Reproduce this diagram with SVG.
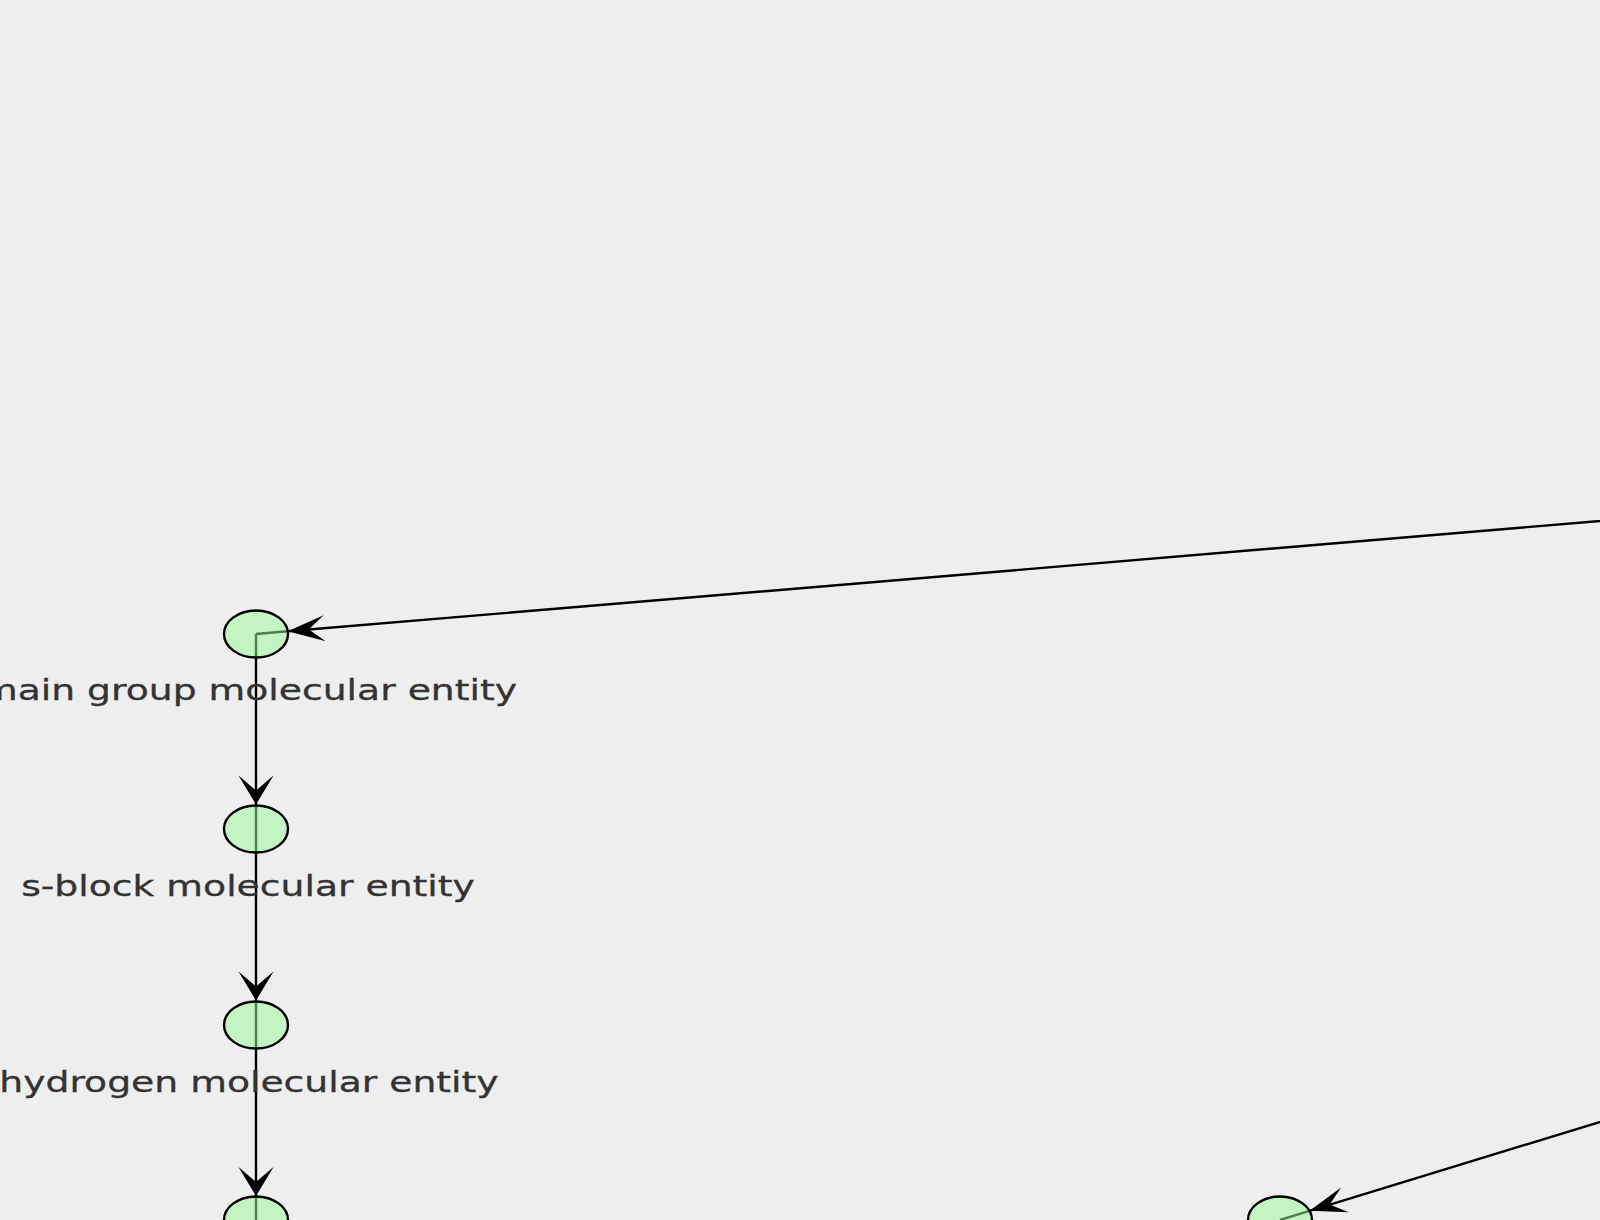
<svg xmlns="http://www.w3.org/2000/svg" width="1600" height="1220" viewBox="0 0 1600 1220">
  <style>
    .edge { fill: none; stroke: #000000; stroke-width: 2.4; }
    .node ellipse { fill: #98fb98; fill-opacity: 0.5; stroke: #000000; stroke-width: 2.4; }
    .label { font-family: "DejaVu Sans", "Liberation Sans", sans-serif; font-size: 29px; fill: #333333; stroke: #333333; stroke-width: 0.3; text-anchor: middle; }
  </style>
  <defs>
    <marker id="veeV" markerUnits="userSpaceOnUse" markerWidth="40" markerHeight="40" refX="0" refY="0" viewBox="-30 -20 32 40" orient="auto" overflow="visible">
      <path d="M0,0 L-29,-17.5 L-14,0 L-29,17.5 Z" fill="#000000"/>
    </marker>
    <marker id="veeD" markerUnits="userSpaceOnUse" markerWidth="40" markerHeight="40" refX="0" refY="0" viewBox="-38 -15 40 30" orient="auto" overflow="visible">
      <path d="M0,0 L-37,-13 L-21,0 L-37,13 Z" fill="#000000"/>
    </marker>
  </defs>
  <rect x="0" y="0" width="1600" height="1220" fill="#eeeeee"/>
  <g id="connectors">
    <path class="edge" d="M1700,512.6 L287.8,631.3 L256,634" marker-mid="url(#veeD)"/>
    <path class="edge" d="M256,634 L256,804.5 L256,829" marker-mid="url(#veeV)"/>
    <path class="edge" d="M256,829 L256,1000.5 L256,1025" marker-mid="url(#veeV)"/>
    <path class="edge" d="M256,1025 L256,1196 L256,1220" marker-mid="url(#veeV)"/>
    <path class="edge" d="M1700,1091.4 L1309.6,1210.8 L1280,1220" marker-mid="url(#veeD)"/>
  </g>
  <g id="node-main-group">
    <g class="node"><ellipse cx="256" cy="634" rx="32" ry="23.5"/></g>
    <text class="label" transform="translate(249,700) scale(1.3,1)">main group molecular entity</text>
  </g>
  <g id="node-s-block">
    <g class="node"><ellipse cx="256" cy="829" rx="32" ry="23.5"/></g>
    <text class="label" transform="translate(248,896) scale(1.3,1)">s-block molecular entity</text>
  </g>
  <g id="node-hydrogen">
    <g class="node"><ellipse cx="256" cy="1025" rx="32" ry="23.5"/></g>
    <text class="label" transform="translate(249,1092) scale(1.3,1)">hydrogen molecular entity</text>
  </g>
  <g id="node-bottom-left" class="node">
    <ellipse cx="256" cy="1220" rx="32" ry="23.5"/>
  </g>
  <g id="node-bottom-right" class="node">
    <ellipse cx="1280" cy="1220" rx="32" ry="23.5"/>
  </g>
</svg>
